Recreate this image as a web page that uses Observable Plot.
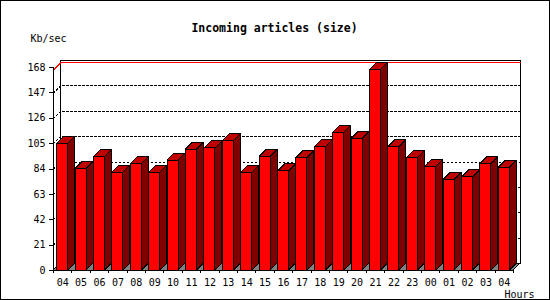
<!DOCTYPE html>
<html>
<head>
<meta charset="utf-8">
<script src="https://cdn.jsdelivr.net/npm/d3@7"></script>
<script src="https://cdn.jsdelivr.net/npm/@observablehq/plot@0.6"></script>
<style>
  html, body { margin: 0; padding: 0; background: white; }
  #wrap { position: relative; width: 550px; height: 300px; overflow: hidden; background: white; }
  #border { position: absolute; left: 0; top: 0; width: 550px; height: 300px; box-sizing: border-box; border: 1px solid black; pointer-events: none; }
  #wrap svg line, #wrap svg path, #wrap svg rect { shape-rendering: crispEdges; }
</style>
</head>
<body>
<div id="wrap"><div id="border"></div></div>
<script>
const title = "Incoming articles (size)";
const yUnit = "Kb/sec";
const xUnit = "Hours";
const hours = ["04","05","06","07","08","09","10","11","12","13","14","15","16","17","18","19","20","21","22","23","00","01","02","03","04"];
const values = [105, 84, 94, 81, 88, 81, 91, 100, 101, 107, 81, 94, 82, 93, 102, 114, 109, 166, 102, 93, 86, 75, 77, 88, 85];
const yTicks = [0, 21, 42, 63, 84, 105, 126, 147, 168];

// layout
const W = 550, H = 300, mL = 53, mR = 37, mT = 67, mB = 30, depth = 7;
const n = hours.length;
const yMax = 168;
const dX = depth * n / (W - mL - mR);
const dY = depth * yMax / (H - mT - mB);
const barL = 0.2, barR = 0.8;

const bars = values.map((v, i) => ({i, v, label: hours[i]}));
const sideData = bars.flatMap(b => [
  {z: b.i, x: b.i + barR, y1: 0, y2: b.v},
  {z: b.i, x: b.i + barR + dX, y1: dY, y2: b.v + dY}
]);
const topData = bars.flatMap(b => [
  {z: b.i, y: b.v, x1: b.i + barL, x2: b.i + barR},
  {z: b.i, y: b.v + dY, x1: b.i + barL + dX, x2: b.i + barR + dX}
]);
const floorData = [
  {y: 0, x1: 0, x2: n},
  {y: dY, x1: dX, x2: n + dX}
];
const gridData = yTicks.filter(t => t > 0 && t < yMax).flatMap(t => [
  {z: t, x: 0, y: t},
  {z: t, x: dX, y: t + dY},
  {z: t, x: n + dX, y: t + dY}
]);
const maxV = d3.max(values);
const maxData = [
  {x: 0, y: maxV},
  {x: dX, y: maxV + dY},
  {x: n + dX, y: maxV + dY}
];

const chart = Plot.plot({
  width: W, height: H,
  marginLeft: mL, marginRight: mR, marginTop: mT, marginBottom: mB,
  style: {fontFamily: "'DejaVu Sans Mono', monospace", fontSize: "10px", background: "transparent", color: "black", overflow: "visible"},
  x: {domain: [0, n], ticks: d3.range(0, n + 1), tickFormat: () => "", tickSize: 3, label: null},
  y: {domain: [0, yMax], ticks: yTicks, tickSize: 4, tickPadding: 4, label: null},
  marks: [
    // back wall
    Plot.rect([0], {x1: () => dX, x2: () => n + dX, y1: () => dY, y2: () => yMax + dY, fill: "white", stroke: "black", inset: 0}),
    // floor
    Plot.area(floorData, {y1: "y", x1: "x1", x2: "x2", fill: "#808080", stroke: "black"}),
    // dotted gridlines (left wall + back wall)
    Plot.line(gridData, {x: "x", y: "y", z: "z", stroke: "black", strokeWidth: 1, strokeDasharray: "2,2"}),
    // max line
    Plot.line(maxData, {x: "x", y: "y", stroke: "#ff0000", strokeWidth: 1}),
    // front y axis line
    Plot.ruleX([0], {y1: () => 0, y2: () => yMax, stroke: "black"}),
    // bars
    Plot.area(sideData, {x1: "x", y1: "y1", y2: "y2", z: "z", fill: "#800000", stroke: "black"}),
    Plot.area(topData, {y1: "y", x1: "x1", x2: "x2", z: "z", fill: "#c00000", stroke: "black"}),
    Plot.rect(bars, {x1: d => d.i + barL, x2: d => d.i + barR, y1: () => 0, y2: "v", fill: "#ff0000", stroke: "black", inset: 0}),
    // x labels
    Plot.text(bars, {x: d => d.i + 0.5, y: () => 0, text: "label", dy: 12, fill: "black", fontSize: 10}),
    // title
    Plot.text([title], {text: d => d, frameAnchor: "top", dx: -9, dy: -39, lineAnchor: "middle", textAnchor: "middle", fontWeight: "bold", fontSize: 11.5, fill: "black"}),
    Plot.text([yUnit], {text: d => d, frameAnchor: "top-left", dx: -23, dy: -29, lineAnchor: "middle", textAnchor: "start", fontSize: 10, fill: "black"}),
    Plot.text([xUnit], {text: d => d, frameAnchor: "bottom-right", dx: 21, dy: 24, lineAnchor: "middle", textAnchor: "end", fontSize: 10, fill: "black"})
  ]
});
document.getElementById("wrap").insertBefore(chart, document.getElementById("border"));
</script>
</body>
</html>
